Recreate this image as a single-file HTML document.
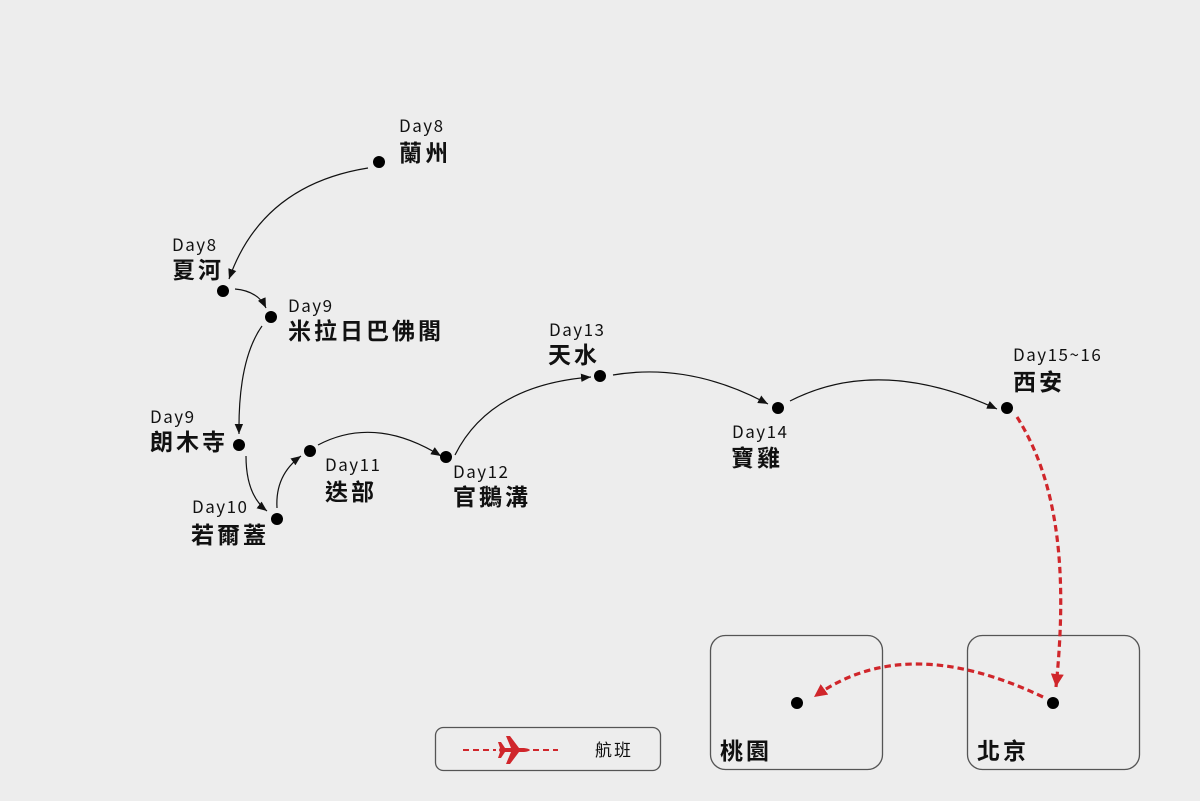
<!DOCTYPE html>
<html>
<head>
<meta charset="utf-8">
<style>
  html, body { margin:0; padding:0; background:#ededed; }
  body { width:1200px; height:801px; overflow:hidden; }
  svg { display:block; }
  .day { font-family:"Noto Sans CJK TC","Liberation Sans",sans-serif; font-size:17px; letter-spacing:1.5px; fill:#111; }
  .nm { font-family:"Liberation Sans","Noto Sans CJK TC",sans-serif; font-size:23px; font-weight:700; letter-spacing:3px; fill:#111; }
  .lg { font-family:"Liberation Sans","Noto Sans CJK TC",sans-serif; font-size:17px; letter-spacing:2px; fill:#111; }
</style>
</head>
<body>
<svg width="1200" height="801" viewBox="0 0 1200 801" xmlns="http://www.w3.org/2000/svg">
  <defs>
    <marker id="ab" viewBox="0 0 10 10" refX="10" refY="5" markerWidth="10" markerHeight="10" markerUnits="userSpaceOnUse" orient="auto">
      <path d="M0,0.8 L10,5 L0,9.2 z" fill="#111"/>
    </marker>
    <marker id="ar" viewBox="0 0 10 10" refX="10" refY="5" markerWidth="13" markerHeight="13" markerUnits="userSpaceOnUse" orient="auto">
      <path d="M0,0 L10,5 L0,10 z" fill="#d0262b"/>
    </marker>
  </defs>
  <rect x="0" y="0" width="1200" height="801" fill="#ededed"/>

  <!-- boxes -->
  <rect x="710.5" y="635.5" width="172" height="134" rx="15" fill="none" stroke="#555" stroke-width="1.3"/>
  <rect x="967.5" y="635.5" width="172" height="134" rx="15" fill="none" stroke="#555" stroke-width="1.3"/>
  <rect x="435.5" y="727.5" width="225" height="43" rx="8" fill="none" stroke="#555" stroke-width="1.3"/>

  <!-- black connectors -->
  <g fill="none" stroke="#111" stroke-width="1.2" marker-end="url(#ab)">
    <path d="M368,168 Q262,185 229,279"/>
    <path d="M235,289 Q258,291 266,308"/>
    <path d="M262,326 Q238,360 239,434"/>
    <path d="M246,456 Q246,495 267,511"/>
    <path d="M277,508 Q275,475 301,456"/>
    <path d="M318,445 Q375,415 441,456"/>
    <path d="M455,455 Q490,385 591,377"/>
    <path d="M613,375 Q690,362 768,404"/>
    <path d="M790,401 Q880,355 997,409"/>
  </g>

  <!-- red flight connectors -->
  <g fill="none" stroke="#d0262b" stroke-width="3.2" stroke-dasharray="6.5,4" marker-end="url(#ar)">
    <path d="M1017,417 C1058,482 1068,570 1056,687"/>
    <path d="M1043,697 Q905,631 814,697"/>
  </g>

  <!-- dots -->
  <g fill="#000">
    <circle cx="379" cy="162" r="6"/>
    <circle cx="223" cy="291" r="6"/>
    <circle cx="271" cy="317" r="6"/>
    <circle cx="239" cy="445" r="6"/>
    <circle cx="277" cy="519" r="6"/>
    <circle cx="310" cy="451" r="6"/>
    <circle cx="446" cy="457" r="6"/>
    <circle cx="600" cy="376" r="6"/>
    <circle cx="778" cy="408" r="6"/>
    <circle cx="1007" cy="408" r="6"/>
    <circle cx="1053" cy="703" r="6"/>
    <circle cx="797" cy="703" r="6"/>
  </g>

  <!-- labels -->
  <text class="day" x="399" y="132">Day8</text>
  <text class="nm" x="399" y="161">蘭州</text>

  <text class="day" x="172" y="251">Day8</text>
  <text class="nm" x="172" y="278">夏河</text>

  <text class="day" x="288" y="312">Day9</text>
  <text class="nm" x="288" y="339">米拉日巴佛閣</text>

  <text class="day" x="150" y="423">Day9</text>
  <text class="nm" x="150" y="450">朗木寺</text>

  <text class="day" x="192" y="513">Day10</text>
  <text class="nm" x="191" y="543">若爾蓋</text>

  <text class="day" x="325" y="471">Day11</text>
  <text class="nm" x="325" y="500">迭部</text>

  <text class="day" x="453" y="478">Day12</text>
  <text class="nm" x="453" y="505">官鵝溝</text>

  <text class="day" x="549" y="336">Day13</text>
  <text class="nm" x="548" y="363">天水</text>

  <text class="day" x="732" y="438">Day14</text>
  <text class="nm" x="731" y="466">寶雞</text>

  <text class="day" x="1013" y="361">Day15~16</text>
  <text class="nm" x="1013" y="390">西安</text>

  <text class="nm" x="720" y="759">桃園</text>
  <text class="nm" x="977" y="759">北京</text>

  <!-- legend -->
  <line x1="463" y1="750" x2="558" y2="750" stroke="#d0262b" stroke-width="2" stroke-dasharray="6,4"/>
  <rect x="496" y="742" width="36" height="16" fill="#ededed"/>
  <g fill="#d0262b">
    <path d="M500,748 L524,748 Q529,748.5 530,750 Q529,751.5 524,752 L500,752 Q498,750 500,748 z"/>
    <path d="M519,748 L510,736 L506,736 L511,748 z"/>
    <path d="M519,752 L510,764 L506,764 L511,752 z"/>
    <path d="M505,748 L501,742 L498,742 L500,748 z"/>
    <path d="M505,752 L501,758 L498,758 L500,752 z"/>
  </g>
  <text class="lg" x="595" y="756">航班</text>
</svg>
</body>
</html>
